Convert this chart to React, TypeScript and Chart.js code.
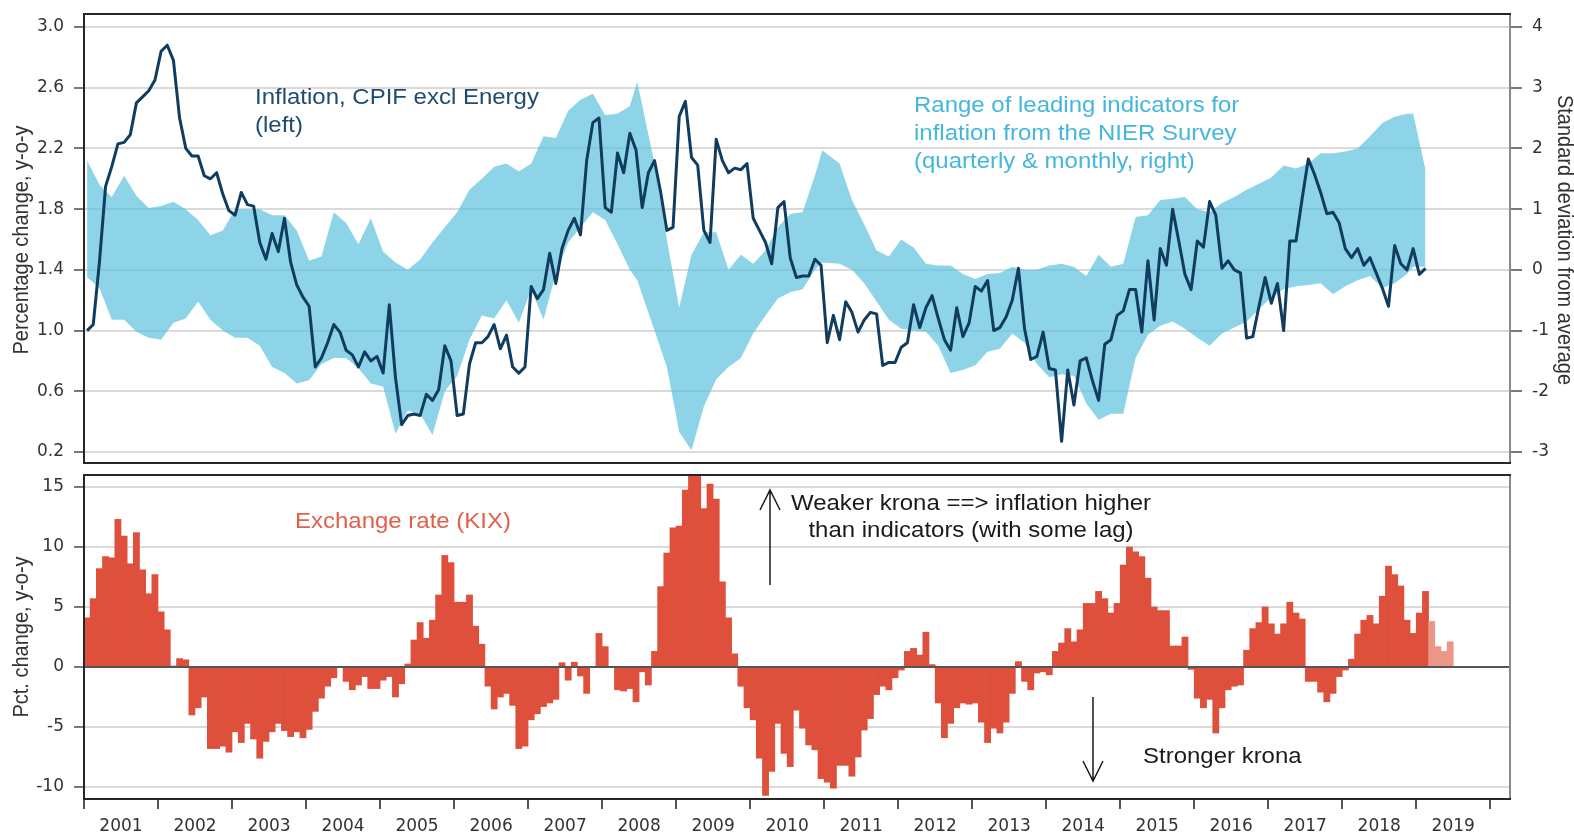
import React, { useEffect, useRef } from 'react';
import { Chart, registerables } from 'chart.js';

Chart.register(...registerables);

// ---------------- data ----------------
const yearLabels = ['2001', '2002', '2003', '2004', '2005', '2006', '2007', '2008', '2009', '2010',
  '2011', '2012', '2013', '2014', '2015', '2016', '2017', '2018', '2019'];

// month-start positions of the year ticks (months since Jan 2001)
const yearTicks = [0, 12, 24, 36, 48, 60, 72, 84, 96, 108, 120, 132, 144, 156, 168, 180, 192, 204, 216, 228];

// Inflation, CPIF excl Energy, % y-o-y, monthly from Jan 2001 (left axis)
const inflation = [
  1.00, 1.04, 1.45, 1.95, 2.08, 2.23, 2.24, 2.29, 2.50, 2.54,
  2.58, 2.65, 2.84, 2.88, 2.78, 2.40, 2.20, 2.15, 2.15, 2.02,
  2.00, 2.04, 1.90, 1.79, 1.76, 1.91, 1.83, 1.82, 1.58, 1.47,
  1.64, 1.52, 1.74, 1.45, 1.30, 1.22, 1.16, 0.76, 0.82, 0.92,
  1.04, 0.99, 0.87, 0.84, 0.76, 0.86, 0.80, 0.83, 0.72, 1.17,
  0.69, 0.38, 0.44, 0.45, 0.44, 0.58, 0.54, 0.61, 0.90, 0.80,
  0.44, 0.45, 0.78, 0.92, 0.92, 0.96, 1.04, 0.88, 0.97, 0.76,
  0.72, 0.76, 1.29, 1.21, 1.27, 1.51, 1.31, 1.54, 1.66, 1.74,
  1.63, 2.12, 2.37, 2.40, 1.81, 1.78, 2.17, 2.04, 2.30, 2.19,
  1.81, 2.04, 2.12, 1.91, 1.66, 1.68, 2.41, 2.51, 2.14, 2.09,
  1.66, 1.58, 2.26, 2.12, 2.04, 2.07, 2.06, 2.10, 1.74, 1.66,
  1.58, 1.44, 1.81, 1.85, 1.48, 1.35, 1.36, 1.36, 1.47, 1.43,
  0.92, 1.10, 0.94, 1.19, 1.12, 0.99, 1.07, 1.12, 1.11, 0.77,
  0.79, 0.79, 0.89, 0.92, 1.17, 1.02, 1.15, 1.23, 1.08, 0.94,
  0.87, 1.15, 0.96, 1.05, 1.29, 1.26, 1.33, 1.00, 1.02, 1.09,
  1.20, 1.41, 1.01, 0.81, 0.83, 0.99, 0.75, 0.74, 0.27, 0.74,
  0.51, 0.80, 0.82, 0.67, 0.54, 0.91, 0.94, 1.10, 1.13, 1.27,
  1.27, 0.99, 1.46, 1.07, 1.54, 1.43, 1.80, 1.59, 1.37, 1.27,
  1.59, 1.55, 1.85, 1.76, 1.41, 1.46, 1.40, 1.38, 0.95, 0.96,
  1.16, 1.35, 1.18, 1.31, 1.00, 1.59, 1.59, 1.87, 2.13, 2.03,
  1.91, 1.77, 1.78, 1.71, 1.54, 1.48, 1.54, 1.43, 1.48, 1.38,
  1.28, 1.16, 1.56, 1.44, 1.40, 1.54, 1.37, 1.41,
];

// Range of leading indicators (std. dev. from average, right axis)
const bandX = [
  0.5, 2.5, 4.5, 6.5, 8.5, 10.5, 12.5, 14.5, 16.5, 18.5,
  20.5, 22.5, 24.5, 26.5, 28.5, 30.5, 32.5, 34.5, 36.5, 38.5,
  40.5, 42.5, 44.5, 46.5, 48.5, 50.5, 52.5, 54.5, 56.5, 58.5,
  60.5, 62.5, 64.5, 66.5, 68.5, 70.5, 72.5, 74.5, 76.5, 78.5,
  80.5, 82.5, 84.5, 86.5, 88.5, 89.7, 92.5, 94.5, 96.5, 98.5,
  100.5, 102.5, 104.5, 106.5, 108.5, 110.5, 112.5, 114.5, 116.5, 118.5,
  119.7, 122.5, 124.5, 126.5, 128.5, 130.5, 132.5, 134.5, 136.5, 138.5,
  140.5, 142.5, 144.5, 146.5, 148.5, 150.5, 152.5, 154.5, 156.5, 158.5,
  160.5, 162.5, 164.5, 166.5, 168.5, 170.5, 172.5, 174.5, 176.5, 178.5,
  180.5, 182.5, 184.5, 186.5, 188.5, 190.5, 192.5, 194.5, 196.5, 198.5,
  200.5, 202.5, 204.5, 206.5, 208.5, 210.5, 212.5, 214.5, 215.5, 217.5,
];
const bandHigh = [
  1.80, 1.40, 1.20, 1.55, 1.22, 1.02, 1.05, 1.12, 1.00, 0.82,
  0.57, 0.65, 1.00, 1.00, 1.00, 0.90, 0.90, 0.65, 0.15, 0.22,
  0.95, 0.77, 0.42, 0.85, 0.30, 0.12, 0.00, 0.17, 0.45, 0.70,
  0.95, 1.32, 1.50, 1.70, 1.75, 1.62, 1.75, 2.20, 2.17, 2.62,
  2.80, 2.90, 2.55, 2.57, 2.70, 3.10, 1.75, 0.50, -0.62, 0.25,
  0.62, 0.62, 0.00, 0.25, 0.10, 0.32, 0.70, 0.92, 0.95, 1.55,
  1.97, 1.75, 1.15, 0.75, 0.32, 0.22, 0.50, 0.37, 0.10, 0.07,
  0.07, -0.07, -0.15, -0.07, -0.05, 0.05, 0.00, 0.00, 0.07, 0.10,
  0.05, -0.10, 0.25, 0.05, 0.10, 0.87, 0.90, 1.15, 1.17, 1.20,
  1.00, 0.95, 1.10, 1.20, 1.32, 1.42, 1.52, 1.72, 1.67, 1.75,
  1.92, 1.92, 1.95, 2.00, 2.20, 2.42, 2.52, 2.57, 2.57, 1.65,
];
const bandLow = [
  -0.12, -0.30, -0.82, -0.82, -1.02, -1.12, -1.15, -0.87, -0.80, -0.52,
  -0.82, -1.00, -1.12, -1.12, -1.25, -1.60, -1.70, -1.87, -1.82, -1.55,
  -1.45, -1.45, -1.62, -1.87, -1.92, -2.70, -2.32, -2.37, -2.72, -2.00,
  -1.75, -1.15, -0.75, -0.80, -0.50, -0.87, -0.32, -0.82, -0.05, 0.45,
  0.70, 0.95, 0.82, 0.42, 0.00, -0.17, -1.00, -1.60, -2.67, -2.97,
  -2.25, -1.80, -1.60, -1.45, -1.05, -0.75, -0.47, -0.37, -0.32, 0.00,
  0.12, 0.10, 0.00, -0.22, -0.52, -0.82, -0.97, -1.00, -1.02, -1.25,
  -1.70, -1.65, -1.57, -1.35, -1.30, -1.05, -1.20, -1.55, -1.77, -1.72,
  -1.75, -2.20, -2.47, -2.37, -2.37, -1.45, -1.07, -0.92, -0.85, -0.97,
  -1.12, -1.25, -1.05, -0.95, -0.85, -0.65, -0.45, -0.32, -0.27, -0.25,
  -0.22, -0.40, -0.27, -0.17, -0.10, -0.30, -0.22, -0.07, 0.05, 0.05,
];

// Exchange rate (KIX), % y-o-y, monthly from Jan 2001
const kix = [
  4.1, 5.7, 8.2, 9.2, 9.1, 12.3, 10.9, 8.6, 11.2, 8.1,
  6.1, 7.7, 4.6, 3.1, 0.05, 0.7, 0.6, -4.0, -3.4, -2.5,
  -6.8, -6.8, -6.6, -7.1, -5.4, -6.3, -4.7, -6.0, -7.6, -6.2,
  -5.4, -4.7, -5.3, -5.8, -5.4, -5.9, -5.2, -3.7, -2.6, -1.6,
  -0.9, 0.0, -1.2, -1.9, -1.5, -0.8, -1.8, -1.8, -1.1, -0.8,
  -2.5, -1.4, 0.25, 2.25, 3.7, 2.4, 3.9, 6.0, 9.3, 8.7,
  5.4, 5.4, 6.0, 3.4, 1.9, -1.6, -3.5, -2.5, -2.2, -3.2,
  -6.8, -6.6, -4.4, -3.9, -3.3, -3.0, -2.7, 0.36, -1.1, 0.4,
  -0.75, -2.2, 0.0, 2.8, 1.7, 0.0, -1.9, -2.0, -1.8, -2.9,
  -0.4, -1.5, 1.3, 6.7, 9.5, 11.6, 11.75, 14.75, 17.0, 17.0,
  13.2, 15.25, 14.0, 7.1, 4.1, 1.1, -1.6, -3.4, -4.4, -7.6,
  -10.7, -8.7, -4.7, -7.2, -8.3, -3.6, -5.1, -6.5, -6.9, -9.3,
  -9.6, -10.1, -8.2, -8.2, -9.1, -7.5, -5.25, -4.3, -2.3, -1.6,
  -1.9, -0.9, -0.25, 1.3, 1.55, 1.0, 2.9, 0.2, -3.0, -5.9,
  -4.7, -3.4, -3.0, -3.1, -3.0, -4.6, -6.3, -5.1, -5.5, -4.6,
  -2.2, 0.45, -1.2, -1.9, -0.5, -0.4, -0.65, 1.3, 2.0, 3.2,
  2.1, 3.1, 5.3, 5.3, 6.3, 5.7, 4.5, 5.3, 8.5, 10.0,
  9.6, 9.2, 7.4, 5.0, 4.7, 4.7, 1.75, 1.75, 2.5, -0.2,
  -2.6, -3.4, -2.7, -5.5, -3.4, -1.9, -1.6, -1.5, 1.4, 3.2,
  3.7, 5.0, 3.6, 2.75, 3.6, 5.4, 4.5, 4.0, -1.2, -1.2,
  -2.1, -2.9, -2.2, -0.8, -0.25, 0.65, 2.75, 3.9, 4.3, 3.6,
  5.9, 8.4, 7.7, 6.75, 3.9, 2.8, 4.5, 6.3, 3.8, 1.7,
  1.3, 2.1,
];
const forecastStart = 218; // first lighter (preliminary) bar

const leftTicks = [0.2, 0.6, 1.0, 1.4, 1.8, 2.2, 2.6, 3.0];
const rightTicks = [-3, -2, -1, 0, 1, 2, 3, 4];
const barTicks = [-10, -5, 0, 5, 10, 15];

// ---------------- style ----------------
const W = 1574;
const TOP_H = 470;
const BOT_TOP = 470;
const BOT_H = 366;
const X_MAX = 231.2;
const L_MIN = 0.1275, L_MAX = 3.0856;
const R_MIN = -3.181, R_MAX = 4.214;

const NAVY = '#103c60';
const BAND = 'rgba(94,194,222,0.7)';
const RED = '#de503c';
const RED_LIGHT = '#ec968a';
const GRID = '#dadada';
const TICK_COLOR = '#7a7a7a';
const TEXT = '#333333';
const tickFont = { family: '"DejaVu Sans", sans-serif', size: 17 };
const SANS = '"Liberation Sans", Arial, sans-serif';
const SX = 1.09;

function stretchText(ctx: any, text: string, x: number, y: number, align: string, sx: number) {
  ctx.save();
  ctx.translate(x, y);
  ctx.scale(sx, 1);
  ctx.textAlign = align;
  ctx.textBaseline = 'alphabetic';
  ctx.fillText(text, 0, 0);
  ctx.restore();
}

function rotText(ctx: any, text: string, cx: number, cy: number, angle: number) {
  ctx.save();
  ctx.translate(cx, cy);
  ctx.scale(SX, 1);
  ctx.rotate(angle);
  ctx.textAlign = 'center';
  ctx.textBaseline = 'middle';
  ctx.fillText(text, 0, 0);
  ctx.restore();
}

function arrow(ctx: any, x: number, yTail: number, yTip: number) {
  const dir = Math.sign(yTip - yTail);
  ctx.beginPath();
  ctx.moveTo(x, yTail);
  ctx.lineTo(x, yTip);
  ctx.moveTo(x - 10, yTip - dir * 20);
  ctx.lineTo(x, yTip);
  ctx.lineTo(x + 10, yTip - dir * 20);
  ctx.stroke();
}

const framePlugin = {
  id: 'frame',
  afterDatasetsDraw(chart: any) {
    const { ctx, chartArea: a } = chart;
    ctx.save();
    ctx.lineWidth = 2;
    ctx.strokeStyle = '#8a8a8a';
    ctx.beginPath();
    ctx.moveTo(a.right, a.top);
    ctx.lineTo(a.right, a.bottom);
    ctx.stroke();
    ctx.strokeStyle = '#262626';
    ctx.beginPath();
    ctx.moveTo(a.right + 1, a.top);
    ctx.lineTo(a.left, a.top);
    ctx.lineTo(a.left, a.bottom);
    ctx.lineTo(a.right + 1, a.bottom);
    ctx.stroke();
    ctx.restore();
  },
};

const topTextPlugin = {
  id: 'topText',
  afterDraw(chart: any) {
    const { ctx } = chart;
    ctx.save();
    ctx.font = `22px ${SANS}`;
    ctx.fillStyle = '#1f4b73';
    stretchText(ctx, 'Inflation, CPIF excl Energy', 255, 104, 'left', SX);
    stretchText(ctx, '(left)', 255, 132, 'left', SX);
    ctx.fillStyle = '#45b6dc';
    stretchText(ctx, 'Range of leading indicators for', 914, 112, 'left', SX);
    stretchText(ctx, 'inflation from the NIER Survey', 914, 140, 'left', SX);
    stretchText(ctx, '(quarterly & monthly, right)', 914, 168, 'left', SX);
    ctx.font = `20px ${SANS}`;
    ctx.fillStyle = TEXT;
    rotText(ctx, 'Percentage change, y-o-y', 22, 240, -Math.PI / 2);
    rotText(ctx, 'Standard deviation from average', 1564, 240, Math.PI / 2);
    ctx.restore();
  },
};

const botTextPlugin = {
  id: 'botText',
  afterDatasetsDraw(chart: any) {
    const { ctx, chartArea: a, scales } = chart;
    const y0 = scales.y.getPixelForValue(0);
    ctx.save();
    ctx.strokeStyle = '#555555';
    ctx.lineWidth = 2;
    ctx.beginPath();
    ctx.moveTo(a.left, y0);
    ctx.lineTo(a.right, y0);
    ctx.stroke();
    ctx.restore();
  },
  afterDraw(chart: any) {
    const { ctx } = chart;
    const off = BOT_TOP;
    ctx.save();
    ctx.font = `22px ${SANS}`;
    ctx.fillStyle = '#e2604b';
    stretchText(ctx, 'Exchange rate (KIX)', 295, 528 - off, 'left', SX);
    ctx.fillStyle = '#1a1a1a';
    stretchText(ctx, 'Weaker krona ==> inflation higher', 971, 510 - off, 'center', SX);
    stretchText(ctx, 'than indicators (with some lag)', 971, 537 - off, 'center', SX);
    stretchText(ctx, 'Stronger krona', 1143, 763 - off, 'left', SX);
    ctx.strokeStyle = '#1a1a1a';
    ctx.lineWidth = 1.5;
    arrow(ctx, 770, 585 - off, 490 - off);
    arrow(ctx, 1093, 697 - off, 781 - off);
    ctx.font = `20px ${SANS}`;
    ctx.fillStyle = TEXT;
    rotText(ctx, 'Pct. change, y-o-y', 22, 637 - off, -Math.PI / 2);
    ctx.restore();
  },
};

function fixWidth(w: number) {
  return (ax: any) => {
    ax.width = w;
    ax.paddingTop = 0;
    ax.paddingBottom = 0;
  };
}

export default function App() {
  const topRef = useRef<HTMLCanvasElement | null>(null);
  const botRef = useRef<HTMLCanvasElement | null>(null);

  useEffect(() => {
    const top = new Chart(topRef.current as HTMLCanvasElement, {
      type: 'line',
      data: {
        datasets: [
          {
            label: 'Inflation, CPIF excl Energy',
            data: inflation.map((v, i) => ({ x: i + 0.5, y: v })),
            yAxisID: 'y',
            borderColor: NAVY,
            borderWidth: 3,
            pointRadius: 0,
            tension: 0,
            fill: false,
            borderJoinStyle: 'round',
          },
          {
            label: 'Range low',
            data: bandX.map((x, i) => ({ x, y: bandLow[i] })),
            yAxisID: 'y1',
            borderColor: 'rgba(0,0,0,0)',
            borderWidth: 0,
            pointRadius: 0,
            tension: 0,
            fill: false,
          },
          {
            label: 'Range high',
            data: bandX.map((x, i) => ({ x, y: bandHigh[i] })),
            yAxisID: 'y1',
            borderColor: 'rgba(0,0,0,0)',
            borderWidth: 0,
            pointRadius: 0,
            tension: 0,
            fill: '-1',
            backgroundColor: BAND,
          },
        ],
      } as any,
      options: {
        responsive: false,
        animation: false,
        events: [],
        layout: { padding: { top: 14, bottom: 7, left: 0, right: 26 } },
        plugins: { legend: { display: false }, tooltip: { enabled: false } },
        scales: {
          x: { type: 'linear', min: 0, max: X_MAX, display: false },
          y: {
            position: 'left',
            min: L_MIN,
            max: L_MAX,
            afterBuildTicks: (ax: any) => { ax.ticks = leftTicks.map((v) => ({ value: v })); },
            afterFit: fixWidth(84),
            ticks: { font: tickFont, color: TEXT, padding: 10, callback: (v: any) => Number(v).toFixed(1) },
            grid: { color: GRID, lineWidth: 2, tickColor: TICK_COLOR, tickLength: 10 },
            border: { display: false },
          },
          y1: {
            position: 'right',
            min: R_MIN,
            max: R_MAX,
            afterBuildTicks: (ax: any) => { ax.ticks = rightTicks.map((v) => ({ value: v })); },
            afterFit: fixWidth(38),
            ticks: { font: tickFont, color: TEXT, padding: 10, crossAlign: 'near', callback: (v: any) => String(v) },
            grid: { drawOnChartArea: false, lineWidth: 2, tickColor: TICK_COLOR, tickLength: 12 },
            border: { display: false },
          },
        },
      } as any,
      plugins: [framePlugin, topTextPlugin],
    });

    const bot = new Chart(botRef.current as HTMLCanvasElement, {
      type: 'bar',
      data: {
        datasets: [
          {
            label: 'Exchange rate (KIX)',
            data: kix.map((v, i) => ({ x: i + 0.5, y: v })),
            backgroundColor: kix.map((_, i) => (i >= forecastStart ? RED_LIGHT : RED)),
            borderWidth: 0,
            barPercentage: 1,
            categoryPercentage: 1,
          },
        ],
      } as any,
      options: {
        responsive: false,
        animation: false,
        events: [],
        layout: { padding: { top: 5, bottom: 0, left: 0, right: 64 } },
        plugins: { legend: { display: false }, tooltip: { enabled: false } },
        scales: {
          x: {
            type: 'linear',
            min: 0,
            max: X_MAX,
            offset: false,
            afterBuildTicks: (ax: any) => { ax.ticks = yearTicks.map((v) => ({ value: v })); },
            afterFit: (ax: any) => { ax.height = 37; ax.paddingLeft = 0; ax.paddingRight = 0; },
            ticks: {
              autoSkip: false,
              maxRotation: 0,
              labelOffset: 37,
              padding: 7,
              font: tickFont,
              color: TEXT,
              callback: (v: any) => yearLabels[Math.round(Number(v) / 12)] ?? '',
            },
            grid: { offset: false, drawOnChartArea: false, lineWidth: 2, tickColor: '#555555', tickLength: 10 },
            border: { display: false },
          },
          y: {
            min: -11,
            max: 16,
            afterBuildTicks: (ax: any) => { ax.ticks = barTicks.map((v) => ({ value: v })); },
            afterFit: fixWidth(84),
            ticks: { font: tickFont, color: TEXT, padding: 10, callback: (v: any) => String(v) },
            grid: { color: GRID, lineWidth: 2, tickColor: TICK_COLOR, tickLength: 10 },
            border: { display: false },
          },
        },
      } as any,
      plugins: [botTextPlugin, framePlugin],
    });

    return () => {
      top.destroy();
      bot.destroy();
    };
  }, []);

  return (
    <div style={{ position: 'absolute', left: 0, top: 0, width: W, height: 836, background: '#ffffff' }}>
      <canvas ref={topRef} width={W} height={TOP_H} style={{ position: 'absolute', left: 0, top: 0 }} />
      <canvas ref={botRef} width={W} height={BOT_H} style={{ position: 'absolute', left: 0, top: BOT_TOP }} />
    </div>
  );
}
